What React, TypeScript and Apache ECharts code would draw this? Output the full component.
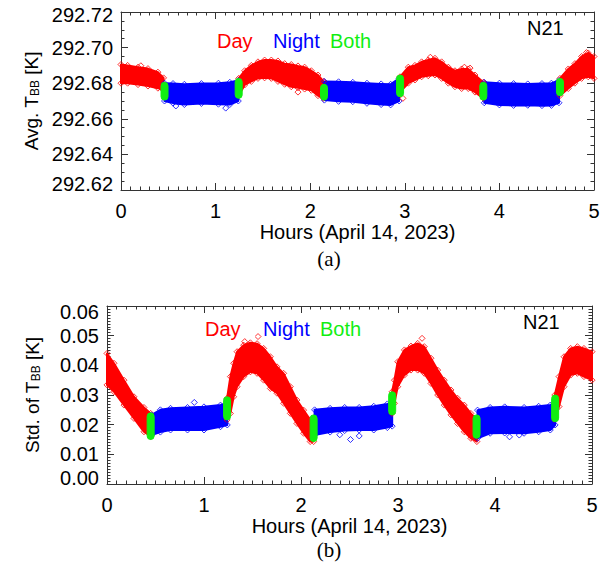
import React, { useEffect, useRef } from 'react';
import * as echarts from 'echarts';

// ---------- Panel (a): Avg. T_BB [K] ----------
const aDay1Hours = [0, 0.07, 0.18, 0.285, 0.39, 0.45];
const aDay1Upper = [292.6905, 292.69, 292.689, 292.6882, 292.6862, 292.683];
const aDay1Lower = [292.68, 292.68, 292.6792, 292.6784, 292.6772, 292.676];

const aNight1Hours = [0.46, 0.55, 0.67, 0.85, 1.03, 1.15, 1.24];
const aNight1Upper = [292.68, 292.6798, 292.6794, 292.6798, 292.68, 292.6805, 292.6815];
const aNight1Lower = [292.67, 292.6688, 292.668, 292.6686, 292.6682, 292.668, 292.67];

const aDay2Hours = [1.244, 1.307, 1.378, 1.448, 1.518, 1.589, 1.659, 1.73, 1.8, 1.871, 1.941, 2.012, 2.082, 2.14];
const aDay2Upper = [292.6827, 292.687, 292.69, 292.692, 292.693, 292.693, 292.6925, 292.691, 292.6905, 292.6897, 292.689, 292.687, 292.6846, 292.681];
const aDay2Lower = [292.673, 292.679, 292.681, 292.6827, 292.683, 292.6827, 292.681, 292.6794, 292.678, 292.6774, 292.6767, 292.676, 292.673, 292.6715];

const aNight2Hours = [2.15, 2.3, 2.45, 2.6, 2.75, 2.85, 2.94];
const aNight2Upper = [292.681, 292.6808, 292.6805, 292.68, 292.6796, 292.6794, 292.6827];
const aNight2Lower = [292.6705, 292.6698, 292.6696, 292.6687, 292.668, 292.6678, 292.67];

const aDay3Hours = [2.949, 3.037, 3.107, 3.178, 3.248, 3.319, 3.389, 3.46, 3.53, 3.601, 3.671, 3.742, 3.83];
const aDay3Upper = [292.6836, 292.689, 292.69, 292.692, 292.693, 292.694, 292.692, 292.689, 292.687, 292.688, 292.688, 292.6846, 292.6805];
const aDay3Lower = [292.675, 292.68, 292.6818, 292.6836, 292.6842, 292.6846, 292.6827, 292.68, 292.678, 292.677, 292.677, 292.675, 292.6715];

const aNight3Hours = [3.84, 4.0, 4.15, 4.3, 4.45, 4.55, 4.63];
const aNight3Upper = [292.6805, 292.68, 292.6798, 292.6796, 292.6798, 292.68, 292.6815];
const aNight3Lower = [292.669, 292.6678, 292.6675, 292.6676, 292.6674, 292.6675, 292.669];

const aDay4Hours = [4.64, 4.728, 4.798, 4.869, 4.939, 5.0];
const aDay4Upper = [292.6827, 292.688, 292.691, 292.695, 292.697, 292.695];
const aDay4Lower = [292.673, 292.677, 292.68, 292.6827, 292.6836, 292.6827];

const aBothHours = [0.46, 1.244, 2.146, 2.95, 3.83, 4.64];
const aBothLower = [292.6705, 292.6715, 292.6705, 292.6724, 292.6705, 292.673];
const aBothUpper = [292.6805, 292.6827, 292.6794, 292.6846, 292.6805, 292.6827];

const aDayOutHours = [0.21, 1.871, 2.98, 3.27, 3.63, 3.69, 4.92];
const aDayOutValues = [292.6898, 292.675, 292.6715, 292.6946, 292.689, 292.6885, 292.6972];
const aNightOutHours = [0.58, 1.107];
const aNightOutValues = [292.6672, 292.666];

// ---------- Panel (b): Std. of T_BB [K] ----------
const bDay1Hours = [0, 0.072, 0.175, 0.278, 0.381, 0.45];
const bDay1Upper = [0.044, 0.0407, 0.035, 0.0294, 0.0258, 0.0238];
const bDay1Lower = [0.0334, 0.0311, 0.0266, 0.0221, 0.0176, 0.016];

const bNight1Hours = [0.46, 0.55, 0.655, 0.83, 1.0, 1.17, 1.24];
const bNight1Upper = [0.0233, 0.025, 0.0255, 0.0258, 0.026, 0.0266, 0.0272];
const bNight1Lower = [0.0165, 0.0175, 0.0182, 0.0182, 0.0182, 0.0193, 0.0199];

const bDay2Hours = [1.238, 1.272, 1.306, 1.341, 1.409, 1.478, 1.547, 1.615, 1.684, 1.752, 1.821, 1.89, 1.958, 2.027, 2.095, 2.13];
const bDay2Upper = [0.0289, 0.0362, 0.0407, 0.0446, 0.0468, 0.0476, 0.0473, 0.0457, 0.0429, 0.0395, 0.0373, 0.0328, 0.0283, 0.0249, 0.0216, 0.0205];
const bDay2Lower = [0.0216, 0.0238, 0.0294, 0.0328, 0.0362, 0.0378, 0.0373, 0.035, 0.0322, 0.0306, 0.0272, 0.0238, 0.0204, 0.0171, 0.0143, 0.0143];

const bNight2Hours = [2.14, 2.3, 2.45, 2.6, 2.75, 2.89, 2.94];
const bNight2Upper = [0.025, 0.0255, 0.0258, 0.0258, 0.0262, 0.027, 0.0275];
const bNight2Lower = [0.0165, 0.0175, 0.018, 0.0182, 0.0182, 0.019, 0.0195];

const bDay3Hours = [2.939, 2.963, 2.997, 3.066, 3.134, 3.203, 3.271, 3.34, 3.409, 3.477, 3.546, 3.614, 3.683, 3.751, 3.813];
const bDay3Upper = [0.0311, 0.035, 0.0412, 0.0452, 0.0465, 0.0474, 0.0463, 0.0424, 0.0384, 0.035, 0.0317, 0.0289, 0.0266, 0.0238, 0.0216];
const bDay3Lower = [0.0238, 0.0272, 0.0328, 0.0367, 0.0384, 0.0384, 0.0373, 0.0339, 0.03, 0.0266, 0.0233, 0.0204, 0.0176, 0.0154, 0.0143];

const bNight3Hours = [3.82, 3.95, 4.1, 4.3, 4.45, 4.57, 4.62];
const bNight3Upper = [0.0249, 0.0258, 0.026, 0.0258, 0.0262, 0.0266, 0.0277];
const bNight3Lower = [0.0154, 0.0171, 0.0172, 0.0171, 0.0176, 0.0182, 0.0199];

const bDay4Hours = [4.616, 4.66, 4.712, 4.78, 4.849, 4.917, 5.0];
const bDay4Upper = [0.03, 0.0362, 0.0429, 0.0457, 0.0463, 0.0457, 0.0446];
const bDay4Lower = [0.0216, 0.0261, 0.0328, 0.0367, 0.0373, 0.0362, 0.035];

const bBothHours = [0.45, 1.238, 2.13, 2.94, 3.81, 4.62];
const bBothLower = [0.015, 0.0216, 0.0143, 0.0233, 0.0154, 0.021];
const bBothUpper = [0.024, 0.0294, 0.0233, 0.0311, 0.0233, 0.03];

const bDayOutHours = [1.42, 1.557, 3.248];
const bDayOutValues = [0.048, 0.0497, 0.0491];
const bNightOutHours = [0.9, 2.4, 2.51, 2.6, 4.15, 4.25];
const bNightOutValues = [0.0275, 0.0166, 0.015, 0.0162, 0.0159, 0.0165];

// ---------- Styling ----------
const DAY = '#ff0000';
const NIGHT = '#0000ff';
const BOTH = '#11ee11';
const AXIS = '#333333';
const FONT = '"Liberation Sans", Arial, Helvetica, sans-serif';

type Band = { hours: number[]; lower: number[]; upper: number[] };
const band = (hours: number[], lower: number[], upper: number[]): Band => ({ hours, lower, upper });

const aDayBands = [
  band(aDay1Hours, aDay1Lower, aDay1Upper),
  band(aDay2Hours, aDay2Lower, aDay2Upper),
  band(aDay3Hours, aDay3Lower, aDay3Upper),
  band(aDay4Hours, aDay4Lower, aDay4Upper),
];
const aNightBands = [
  band(aNight1Hours, aNight1Lower, aNight1Upper),
  band(aNight2Hours, aNight2Lower, aNight2Upper),
  band(aNight3Hours, aNight3Lower, aNight3Upper),
];
const bDayBands = [
  band(bDay1Hours, bDay1Lower, bDay1Upper),
  band(bDay2Hours, bDay2Lower, bDay2Upper),
  band(bDay3Hours, bDay3Lower, bDay3Upper),
  band(bDay4Hours, bDay4Lower, bDay4Upper),
];
const bNightBands = [
  band(bNight1Hours, bNight1Lower, bNight1Upper),
  band(bNight2Hours, bNight2Lower, bNight2Upper),
  band(bNight3Hours, bNight3Lower, bNight3Upper),
];

function bandSeries(bands: Band[], color: string, axisIndex: number) {
  return {
    type: 'custom',
    xAxisIndex: axisIndex * 2,
    yAxisIndex: axisIndex * 2,
    silent: true,
    z: 2,
    data: bands.map((b, i) => [b.hours[0], b.lower[0], i]),
    encode: { x: 0, y: 1 },
    renderItem: (params: any, api: any) => {
      const b = bands[params.dataIndex];
      const top = b.hours.map((h, i) => api.coord([h, b.upper[i]]));
      const bot = b.hours.map((h, i) => api.coord([h, b.lower[i]])).reverse();
      return {
        type: 'polygon',
        shape: { points: top.concat(bot) },
        style: { fill: color, stroke: color, lineWidth: 2, lineJoin: 'round' },
      };
    },
  };
}

function edgeSeries(bands: Band[], color: string, axisIndex: number) {
  const pts: number[][] = [];
  bands.forEach((b) => {
    b.hours.forEach((h, i) => {
      pts.push([h, b.upper[i]]);
      pts.push([h, b.lower[i]]);
    });
  });
  return scatterSeries(pts, color, axisIndex);
}

function scatterSeries(pts: number[][], color: string, axisIndex: number) {
  return {
    type: 'scatter',
    xAxisIndex: axisIndex * 2,
    yAxisIndex: axisIndex * 2,
    silent: true,
    z: 3,
    symbol: 'diamond',
    symbolSize: 6,
    itemStyle: { color: 'rgba(0,0,0,0)', borderColor: color, borderWidth: 1 },
    data: pts,
  };
}

function bothSeries(hours: number[], lower: number[], upper: number[], axisIndex: number) {
  return {
    type: 'custom',
    xAxisIndex: axisIndex * 2,
    yAxisIndex: axisIndex * 2,
    silent: true,
    z: 4,
    data: hours.map((h, i) => [h, lower[i], upper[i]]),
    encode: { x: 0, y: [1, 2] },
    renderItem: (params: any, api: any) => {
      const pTop = api.coord([api.value(0), api.value(2)]);
      const pBot = api.coord([api.value(0), api.value(1)]);
      return {
        type: 'rect',
        shape: { x: pTop[0] - 3.5, y: pTop[1], width: 7, height: pBot[1] - pTop[1], r: 3.5 },
        style: { fill: BOTH, stroke: BOTH, lineWidth: 1 },
      };
    },
  };
}

const zip = (xs: number[], ys: number[]) => xs.map((x, i) => [x, ys[i]]);

const tickStyle = { color: AXIS, width: 1 };

function xAxesFor(gridIndex: number, nameGap: number) {
  const common: any = {
    type: 'value',
    gridIndex,
    min: 0,
    max: 5,
    interval: 1,
    axisLine: { show: true, onZero: false, lineStyle: tickStyle },
    axisTick: { show: true, inside: true, length: 7, lineStyle: tickStyle },
    minorTick: { show: true, splitNumber: 10, length: 3.5, lineStyle: tickStyle },
    splitLine: { show: false },
    minorSplitLine: { show: false },
  };
  return [
    {
      ...common,
      position: 'bottom',
      axisLabel: { show: true, margin: 11, fontSize: 20, color: '#000', fontFamily: FONT },
      name: 'Hours (April 14, 2023)',
      nameLocation: 'middle',
      nameGap,
      nameTextStyle: { fontSize: 20, color: '#000', fontFamily: FONT },
    },
    { ...common, position: 'top', axisLabel: { show: false } },
  ];
}

function yAxesFor(
  gridIndex: number,
  min: number,
  max: number,
  interval: number,
  minorSplit: number,
  name: string,
  nameGap: number,
  hiPad: number,
  loPad: number
) {
  const common: any = {
    type: 'value',
    gridIndex,
    min,
    max,
    interval,
    axisLine: { show: true, onZero: false, lineStyle: tickStyle },
    axisTick: { show: true, inside: true, length: 7, lineStyle: tickStyle },
    minorTick: { show: true, splitNumber: minorSplit, length: 3.5, lineStyle: tickStyle },
    splitLine: { show: false },
    minorSplitLine: { show: false },
  };
  const txt = { fontSize: 20, color: '#000', fontFamily: FONT };
  return [
    {
      ...common,
      position: 'left',
      axisLabel: {
        show: true,
        margin: 8,
        ...txt,
        formatter: (v: number) => {
          const s = v.toFixed(2);
          if (Math.abs(v - max) < 1e-7) return `{hi|${s}}`;
          if (Math.abs(v - min) < 1e-7) return `{lo|${s}}`;
          return s;
        },
        rich: {
          hi: { ...txt, padding: [hiPad, 0, 0, 0] },
          lo: { ...txt, padding: [0, 0, loPad, 0] },
        },
      },
      name,
      nameLocation: 'middle',
      nameGap,
      nameRotate: 90,
      nameTextStyle: {
        fontSize: 19,
        color: '#000',
        fontFamily: FONT,
        rich: {
          m: { fontSize: 19, color: '#000', fontFamily: FONT, verticalAlign: 'bottom' },
          sub: { fontSize: 12, color: '#000', fontFamily: FONT, verticalAlign: 'bottom' },
        },
      },
    },
    { ...common, position: 'right', axisLabel: { show: false } },
  ];
}

export default function App() {
  const ref = useRef<HTMLDivElement>(null);
  useEffect(() => {
    if (!ref.current) return;
    const chart = echarts.init(ref.current, null, { renderer: 'svg' });
    const option: any = {
      animation: false,
      backgroundColor: '#ffffff',
      grid: [
        { left: 121, top: 12, width: 473, height: 178 },
        { left: 107, top: 306, width: 485, height: 178 },
      ],
      xAxis: [...xAxesFor(0, 31), ...xAxesFor(1, 30)],
      yAxis: [
        ...yAxesFor(0, 292.62, 292.72, 0.02, 4, '{m|Avg. T}{sub|BB}{m| [K]}', 74, 6, 13),
        ...yAxesFor(1, 0, 0.06, 0.01, 10, '{m|Std. of T}{sub|BB}{m| [K]}', 65, 12, 12),
      ],
      series: [
        bandSeries(aDayBands, DAY, 0),
        bandSeries(aNightBands, NIGHT, 0),
        edgeSeries(aDayBands, DAY, 0),
        edgeSeries(aNightBands, NIGHT, 0),
        scatterSeries(zip(aDayOutHours, aDayOutValues), DAY, 0),
        scatterSeries(zip(aNightOutHours, aNightOutValues), NIGHT, 0),
        bothSeries(aBothHours, aBothLower, aBothUpper, 0),
        bandSeries(bDayBands, DAY, 1),
        bandSeries(bNightBands, NIGHT, 1),
        edgeSeries(bDayBands, DAY, 1),
        edgeSeries(bNightBands, NIGHT, 1),
        scatterSeries(zip(bDayOutHours, bDayOutValues), DAY, 1),
        scatterSeries(zip(bNightOutHours, bNightOutValues), NIGHT, 1),
        bothSeries(bBothHours, bBothLower, bBothUpper, 1),
      ],
      graphic: [
        { type: 'text', x: 217, y: 41, style: { text: 'Day', fill: DAY, font: `20px ${FONT}`, verticalAlign: 'middle' } },
        { type: 'text', x: 273, y: 41, style: { text: 'Night', fill: NIGHT, font: `20px ${FONT}`, verticalAlign: 'middle' } },
        { type: 'text', x: 330, y: 41, style: { text: 'Both', fill: BOTH, font: `20px ${FONT}`, verticalAlign: 'middle' } },
        { type: 'text', x: 527, y: 28, style: { text: 'N21', fill: '#000', font: `20px ${FONT}`, verticalAlign: 'middle' } },
        { type: 'text', x: 205, y: 329, style: { text: 'Day', fill: DAY, font: `20px ${FONT}`, verticalAlign: 'middle' } },
        { type: 'text', x: 263, y: 329, style: { text: 'Night', fill: NIGHT, font: `20px ${FONT}`, verticalAlign: 'middle' } },
        { type: 'text', x: 320, y: 329, style: { text: 'Both', fill: BOTH, font: `20px ${FONT}`, verticalAlign: 'middle' } },
        { type: 'text', x: 523, y: 322, style: { text: 'N21', fill: '#000', font: `20px ${FONT}`, verticalAlign: 'middle' } },
        { type: 'text', x: 329, y: 259, style: { text: '(a)', fill: '#000', font: '21px "Liberation Serif", "Times New Roman", serif', align: 'center', verticalAlign: 'middle' } },
        { type: 'text', x: 329, y: 550, style: { text: '(b)', fill: '#000', font: '21px "Liberation Serif", "Times New Roman", serif', align: 'center', verticalAlign: 'middle' } },
      ],
    };
    chart.setOption(option);
    return () => chart.dispose();
  }, []);
  return (
    <div
      ref={ref}
      style={{ position: 'absolute', left: 0, top: 0, width: 605, height: 563, background: '#fff' }}
    />
  );
}
